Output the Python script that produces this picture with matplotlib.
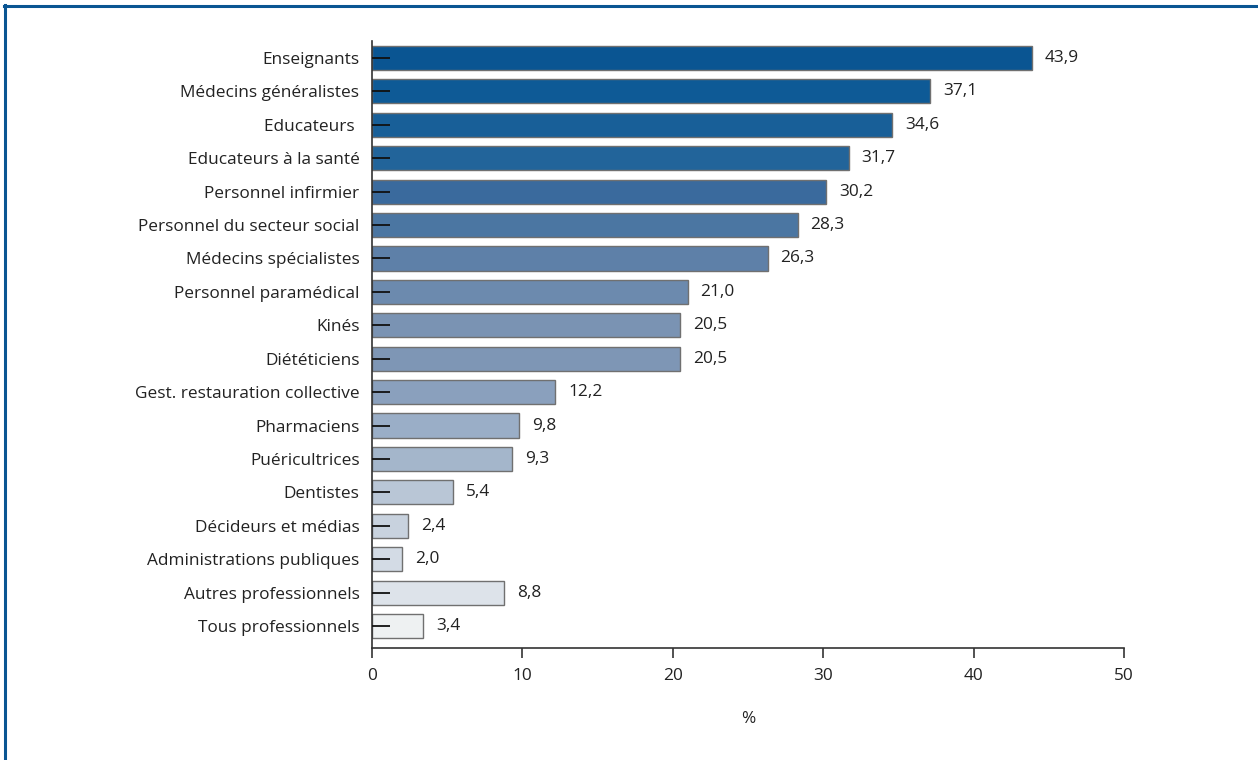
import matplotlib
matplotlib.use("Agg")
import matplotlib.pyplot as plt
from matplotlib.lines import Line2D

categories = [
    "Enseignants", "Médecins généralistes", "Educateurs ", "Educateurs à la santé",
    "Personnel infirmier", "Personnel du secteur social", "Médecins spécialistes",
    "Personnel paramédical", "Kinés", "Diététiciens", "Gest. restauration collective",
    "Pharmaciens", "Puéricultrices", "Dentistes", "Décideurs et médias",
    "Administrations publiques", "Autres professionnels", "Tous professionnels",
]
values = [43.9, 37.1, 34.6, 31.7, 30.2, 28.3, 26.3, 21.0, 20.5, 20.5, 12.2,
          9.8, 9.3, 5.4, 2.4, 2.0, 8.8, 3.4]
bar_colors = [
    "#0a5592", "#0e5a96", "#185f98", "#22649a", "#3a6a9d", "#4b76a2",
    "#5e80a8", "#6c8aae", "#7a93b3", "#7e96b5", "#8aa0bd", "#9aaec7",
    "#a4b6cb", "#b9c6d6", "#c8d2de", "#d3dbe5", "#dde3ea", "#eef1f2",
]
x_ticks = [0, 10, 20, 30, 40, 50]

plt.rcParams["font.family"] = ["Open Sans", "DejaVu Sans"]
FS = 12.4

fig = plt.figure(figsize=(12.58, 7.6), dpi=100)
ax = fig.add_axes([372 / 1258, 1 - 648 / 760, (1124 - 372) / 1258, (648 - 41) / 760])

pos = list(range(len(categories)))
ax.barh(pos, values, height=0.72, color=bar_colors, edgecolor="#707070",
        linewidth=1.0, zorder=2)

for p, v in zip(pos, values):
    ax.text(v + 0.85, p, f"{v:.1f}".replace(".", ","), va="center", ha="left",
            fontsize=FS, color="#222222")

ax.set_ylim(17.66, -0.51)
ax.set_xlim(0, 50)
ax.set_yticks(pos)
ax.set_yticklabels(categories, fontsize=FS, color="#222222")
ax.set_xticks(x_ticks)
ax.set_xticklabels([str(t) for t in x_ticks], fontsize=FS, color="#222222")

ax.tick_params(axis="y", direction="in", length=13, width=1.3, color="#111111",
               pad=9)
ax.tick_params(axis="x", direction="out", length=7.5, width=1.2, color="#333333",
               pad=7)
for tl in ax.yaxis.get_major_ticks():
    tl.tick1line.set_zorder(5)
ax.set_axisbelow(False)

ax.spines["top"].set_visible(False)
ax.spines["right"].set_visible(False)
for s in ("left", "bottom"):
    ax.spines[s].set_color("#333333")
    ax.spines[s].set_linewidth(1.2)

ax.set_xlabel("%", fontsize=FS, color="#222222", labelpad=19)

# Frame lines around the figure
fig.add_artist(Line2D([5 / 1258, 5 / 1258], [0, 1 - 5 / 760],
                      transform=fig.transFigure, color="#0a5592", linewidth=2.2))
fig.add_artist(Line2D([4 / 1258, 1], [1 - 6 / 760, 1 - 6 / 760],
                      transform=fig.transFigure, color="#0a5592", linewidth=2.2))

fig.savefig("out.png", dpi=100)
